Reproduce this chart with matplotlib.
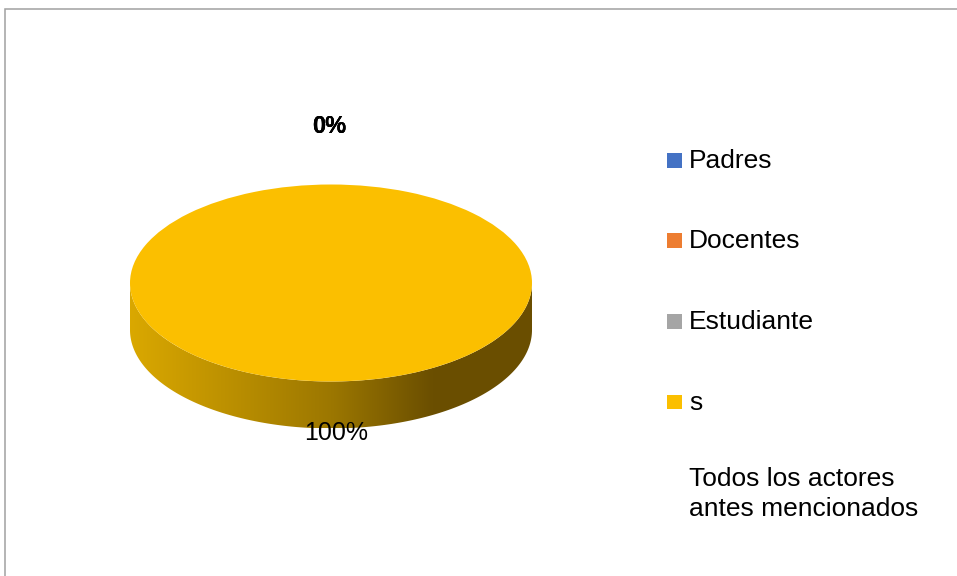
import numpy as np
import matplotlib.pyplot as plt
from matplotlib.patches import Rectangle, Polygon
from matplotlib.colors import LinearSegmentedColormap

# datos
categorias = ['Padres', 'Docentes', 'Estudiantes', 'Todos los actores antes mencionados']
valores = [0, 0, 0, 100]
colores = ['#4472C4', '#ED7D31', '#A5A5A5', '#FBBF00']
# la leyenda original sale cortada asi
etiquetas_leyenda = ['Padres', 'Docentes', 'Estudiante', 's']
texto_extra = 'Todos los actores\nantes mencionados'

plt.rcParams['font.family'] = ['Liberation Sans', 'DejaVu Sans']

W, H = 957, 576
fig = plt.figure(figsize=(W / 100, H / 100), dpi=100)

# marco gris (solo arriba e izquierda visibles)
fig.add_artist(Rectangle((4.5 / W, -0.1), 1.2, (H - 8.5) / H + 0.1,
                         transform=fig.transFigure, fill=False,
                         edgecolor='#A0A0A0', linewidth=1.1))

# ejes del pastel en pixeles: centro (331, 283), radios 201 x 98.5, grosor 47
cx, cy, rx, ry, prof = 331, 283, 201, 98.5, 47
d = prof / ry
ax = fig.add_axes([(cx - rx) / W, (H - (cy + ry + prof)) / H,
                   2 * rx / W, (2 * ry + prof) / H])

wedges, texts, autotexts = ax.pie(valores, colors=colores, startangle=90,
                                  counterclock=False, autopct='%1.0f%%',
                                  pctdistance=1.56, radius=1,
                                  wedgeprops=dict(linewidth=0, zorder=2),
                                  textprops=dict(fontsize=18, color='black'))
for v, t in zip(valores, autotexts):
    if v == 0:
        t.set_fontweight('bold')
        t.set_fontsize(17)
        t.set_position((-0.01, 1.59))
    else:
        t.set_position((0.025, -1.52))

# lateral del disco con degradado
th = np.linspace(np.pi, 2 * np.pi, 200)
borde_sup = np.column_stack([np.cos(th), np.sin(th)])
borde_inf = np.column_stack([np.cos(th[::-1]), np.sin(th[::-1]) - d])
lado = Polygon(np.vstack([borde_sup, borde_inf]), closed=True,
               facecolor='none', edgecolor='none', transform=ax.transData)
ax.add_patch(lado)
cmap = LinearSegmentedColormap.from_list(
    'lado', [(0, '#DAA800'), (0.5, '#9C7700'), (0.75, '#6B4F00'), (1, '#6A4E00')])
img = ax.imshow(np.linspace(0, 1, 256)[None, :], cmap=cmap, aspect='auto',
                extent=[-1, 1, -1 - d, 0], zorder=1, interpolation='bilinear')
img.set_clip_path(lado)

ax.set_aspect('auto')
ax.set_xlim(-1, 1)
ax.set_ylim(-1 - d, 1)
ax.axis('off')

# leyenda manual
y0, paso = 161, 80.5
for i, (lab, col) in enumerate(zip(etiquetas_leyenda, colores)):
    yc = y0 + i * paso
    fig.add_artist(Rectangle((667 / W, (H - yc - 6.5) / H), 14.5 / W, 14.5 / H,
                             transform=fig.transFigure, facecolor=col,
                             edgecolor='none'))
    fig.text(689 / W, (H - yc) / H, lab, fontsize=19, va='center', ha='left')
fig.text(689 / W, (H - 494) / H, texto_extra, fontsize=19, va='center',
         ha='left', linespacing=1.3)

fig.savefig('out.png', dpi=100)
